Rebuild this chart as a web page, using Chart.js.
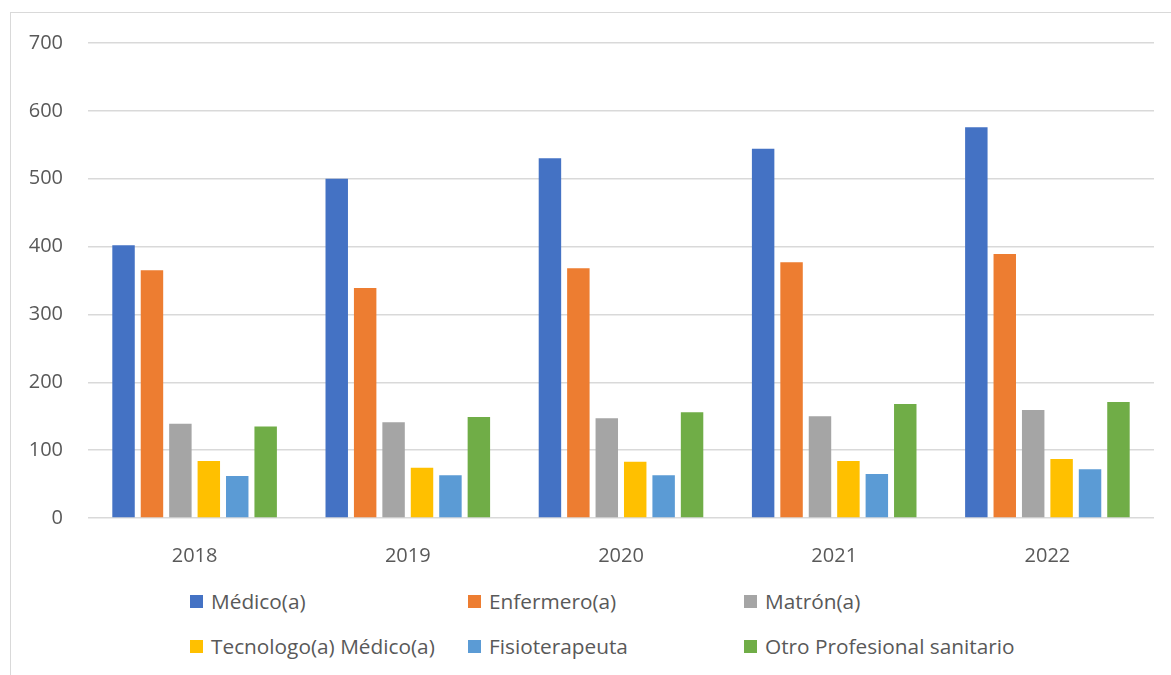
<!DOCTYPE html>
<html>
<head>
<meta charset="utf-8">
<script src="https://cdn.jsdelivr.net/npm/chart.js@4/dist/chart.umd.min.js"></script>
<style>
    html, body {
        margin: 0;
        padding: 0;
        background: #fff;
        overflow: hidden;
    }

    #frame {
        position: absolute;
        left: 10px;
        top: 12px;
        width: 1200px;
        height: 700px;
        border: 1px solid #d9d9d9;
    }

    #chartBox {
        position: absolute;
        left: 0;
        top: 0;
        width: 1171px;
        height: 575px;
    }

    #legend {
        position: absolute;
        left: 190px;
        top: 587px;
        width: 900px;
        font-family: "Open Sans", sans-serif;
        font-size: 20.8px;
        color: #595959;
    }

    .item {
        position: absolute;
        display: flex;
        align-items: center;
        white-space: nowrap;
    }

    .swatch {
        width: 13px;
        height: 13px;
        margin-right: 8px;
    }
</style>
</head>
<body>
<div id="frame"></div>
<div id="chartBox"><canvas id="profChart"></canvas></div>
<div id="legend"></div>

<script>
const years = ["2018", "2019", "2020", "2021", "2022"];

const medico = [402, 500, 530, 544, 576];
const enfermero = [365, 339, 368, 377, 389];
const matron = [139, 141, 147, 150, 159];
const tecnologo = [84, 74, 83, 84, 87];
const fisioterapeuta = [62, 63, 63, 65, 72];
const otro = [135, 149, 156, 168, 171];

const yTicks = [0, 100, 200, 300, 400, 500, 600, 700];

const series = [
    { label: "Médico(a)", data: medico, color: "#4472C4" },
    { label: "Enfermero(a)", data: enfermero, color: "#ED7D31" },
    { label: "Matrón(a)", data: matron, color: "#A5A5A5" },
    { label: "Tecnologo(a) Médico(a)", data: tecnologo, color: "#FFC000" },
    { label: "Fisioterapeuta", data: fisioterapeuta, color: "#5B9BD5" },
    { label: "Otro Profesional sanitario", data: otro, color: "#70AD47" },
];

const textColor = "#595959";
const gridColor = "#d9d9d9";

const canvas = document.getElementById("profChart");

new Chart(canvas.getContext("2d"), {
    type: "bar",

    data: {
        labels: years,

        datasets: series.map((s) => ({
            label: s.label,
            data: s.data,
            backgroundColor: s.color,
            categoryPercentage: 0.8,
            barPercentage: 0.79,
        })),
    },

    options: {
        responsive: true,
        maintainAspectRatio: false,
        animation: false,

        layout: {
            padding: { top: 43, right: 17, bottom: 0, left: 0 },
        },

        scales: {
            x: {
                grid: { display: false },
                border: { display: false },
                ticks: {
                    color: textColor,
                    font: { family: "Open Sans", size: 20 },
                    padding: 18,
                },
                afterFit(scale) {
                    scale.height = 57;
                },
            },

            y: {
                min: 0,
                max: 700,
                afterBuildTicks(scale) {
                    scale.ticks = yTicks.map((v) => ({ value: v }));
                },
                grid: {
                    color: gridColor,
                    lineWidth: 1.5,
                    drawTicks: false,
                },
                border: { display: false },
                ticks: {
                    color: textColor,
                    font: { family: "Open Sans", size: 20 },
                    padding: 25,
                },
                afterFit(scale) {
                    scale.width = 88;
                },
            },
        },

        plugins: {
            legend: { display: false },
            tooltip: { enabled: false },
        },
    },
});

// two rows of three entries under the plot
const legend = document.getElementById("legend");
const colX = [0, 278, 554];
const rowY = [0, 45];

series.forEach((s, i) => {
    const item = document.createElement("div");
    item.className = "item";
    item.style.left = colX[i % 3] + "px";
    item.style.top = rowY[Math.floor(i / 3)] + "px";

    const sw = document.createElement("span");
    sw.className = "swatch";
    sw.style.background = s.color;

    const txt = document.createElement("span");
    txt.textContent = s.label;

    item.appendChild(sw);
    item.appendChild(txt);
    legend.appendChild(item);
});
</script>
</body>
</html>
